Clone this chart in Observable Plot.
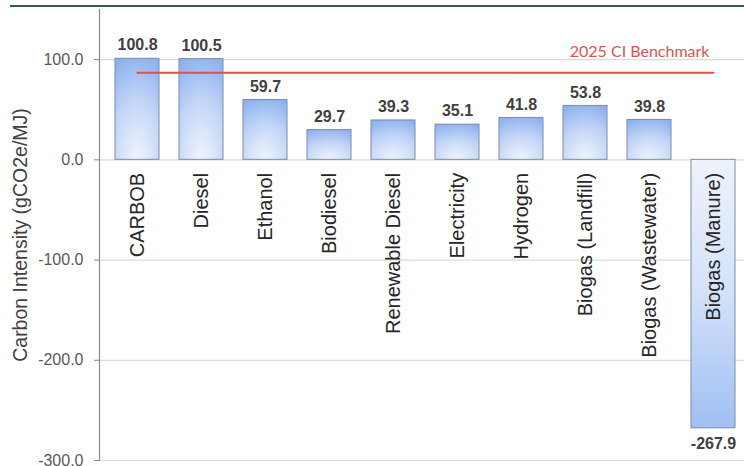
<!DOCTYPE html>
<html>
<head>
<meta charset="utf-8">
<script src="https://cdn.jsdelivr.net/npm/d3@7"></script>
<script src="https://cdn.jsdelivr.net/npm/@observablehq/plot@0.6"></script>
<style>
  html, body { margin: 0; padding: 0; background: #fff; overflow: hidden; }
  #wrap { position: relative; width: 744px; height: 466px; }
  #topline { position: absolute; left: 10px; right: 0; top: 5px; height: 2px; background: #2f5c57; z-index: 2; }
</style>
</head>
<body>
<div id="wrap"><div id="topline"></div></div>
<script>
const fuels = ["CARBOB", "Diesel", "Ethanol", "Biodiesel", "Renewable Diesel", "Electricity", "Hydrogen", "Biogas (Landfill)", "Biogas (Wastewater)", "Biogas (Manure)"];
const ciValues = [100.8, 100.5, 59.7, 29.7, 39.3, 35.1, 41.8, 53.8, 39.8, -267.9];
const yTicks = [-300, -200, -100, 0, 100];
const benchmarkValue = 87.0;
const benchmarkLabel = "2025 CI Benchmark";
const yLabel = "Carbon Intensity (gCO2e/MJ)";

const data = fuels.map((f, i) => ({fuel: f, ci: ciValues[i]}));
const pos = data.filter(d => d.ci >= 0);
const neg = data.filter(d => d.ci < 0);

const chart = Plot.plot({
  width: 744,
  height: 466,
  marginLeft: 99,
  marginRight: 0,
  marginTop: 9,
  marginBottom: 6,
  style: {fontFamily: "'Liberation Sans', Arial, sans-serif", background: "transparent", overflow: "visible"},
  x: {domain: fuels, paddingInner: 0.314, paddingOuter: 0.126, align: 0.63, axis: null},
  y: {domain: [-300, 150], axis: null},
  marks: [
    Plot.gridY(yTicks, {stroke: "#dcdcdc", strokeOpacity: 1, strokeWidth: 1.2}),
    Plot.barY(pos, {x: "fuel", y: "ci", fill: "url(#gPos)", stroke: "#7d8ca3", strokeWidth: 1}),
    Plot.barY(neg, {x: "fuel", y: "ci", fill: "url(#gNeg)", stroke: "#7d8ca3", strokeWidth: 1}),
    Plot.frame({anchor: "left", stroke: "#8a8a8a", strokeWidth: 1.2}),
    Plot.axisY(yTicks, {tickFormat: d => d.toFixed(1), tickSize: 5, tickPadding: 11, fontSize: 16, color: "#595959", stroke: "#8a8a8a", label: null}),
    Plot.text([yLabel], {frameAnchor: "left", textAnchor: "middle", dx: -79, rotate: -90, text: d => d, fontSize: 19.5, fill: "#404040"}),
    Plot.line([{fuel: fuels[0], v: benchmarkValue}, {fuel: fuels[fuels.length - 1], v: benchmarkValue}], {x: "fuel", y: "v", stroke: "#e0514a", strokeWidth: 2}),
    Plot.text([benchmarkLabel], {x: () => fuels[fuels.length - 1], y: () => benchmarkValue, text: d => d, textAnchor: "end", dx: -4, dy: -20.5, fontSize: 16, fill: "#d6574d", fontFamily: "Lato, sans-serif"}),
    Plot.text(pos, {x: "fuel", y: "ci", text: d => d.ci.toFixed(1), dy: -13.5, fontSize: 16, fontWeight: "bold", fill: "#404040"}),
    Plot.text(neg, {x: "fuel", y: "ci", text: d => d.ci.toFixed(1), dy: 16, fontSize: 16, fontWeight: "bold", fill: "#404040"}),
    Plot.text(data, {x: "fuel", y: () => 0, text: "fuel", rotate: -90, textAnchor: "end", dy: 13, fontSize: 20, fill: "#262626", style: "letter-spacing:0.4px"})
  ]
});

// gradient definitions referenced by the bars
const ns = "http://www.w3.org/2000/svg";
const defs = document.createElementNS(ns, "defs");
defs.innerHTML = `
  <radialGradient id="gPos" cx="0.5" cy="1" r="1.05" fx="0.5" fy="1.0" gradientUnits="objectBoundingBox">
    <stop offset="0" stop-color="#f1f5fd"/>
    <stop offset="0.55" stop-color="#c3d6f7"/>
    <stop offset="1" stop-color="#8db2ef"/>
  </radialGradient>
  <linearGradient id="gNeg" x1="0" y1="0" x2="0" y2="1">
    <stop offset="0" stop-color="#eef3fc"/>
    <stop offset="0.5" stop-color="#d3e1f9"/>
    <stop offset="1" stop-color="#9fc0f4"/>
  </linearGradient>`;
chart.insertBefore(defs, chart.firstChild);
chart.style.position = "absolute";
chart.style.left = "0";
chart.style.top = "0";
document.getElementById("wrap").appendChild(chart);
</script>
</body>
</html>
